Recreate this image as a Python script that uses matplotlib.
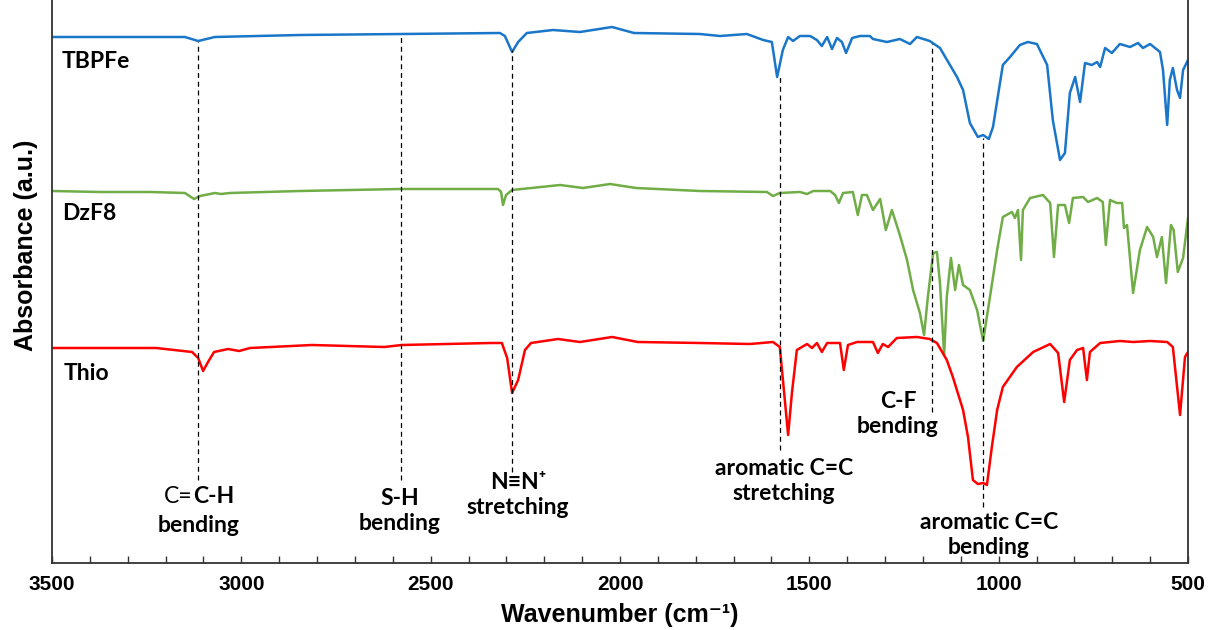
import matplotlib.pyplot as plt
from matplotlib.ticker import MultipleLocator

# FTIR spectra (absorbance in arbitrary units, curves stacked)
wn_tbpfe = [3500, 3241, 3149, 3114, 3070, 2845, 2576, 2317, 2304, 2285, 2269, 2246, 2177, 2106,
            2021, 1963, 1789, 1736, 1665, 1622, 1599, 1585, 1570, 1556, 1543, 1525, 1498, 1480,
            1467, 1453, 1440, 1427, 1414, 1403, 1387, 1366, 1340, 1332, 1295, 1261, 1234, 1216,
            1182, 1155, 1110, 1094, 1076, 1055, 1041, 1026, 1015, 989, 970, 944, 923, 899, 872,
            857, 838, 825, 812, 798, 785, 772, 754, 740, 732, 719, 701, 680, 653, 632, 619, 600,
            574, 566, 555, 548, 540, 529, 521, 513, 500]
abs_tbpfe = [526, 526, 526, 522, 526, 528, 529, 530, 527, 511, 521, 530, 533, 531,
             536, 530, 529, 527, 529, 523, 521, 486, 513, 526, 522, 527, 527, 523,
             517, 526, 514, 525, 521, 510, 525, 527, 527, 524, 521, 524, 519, 526,
             522, 515, 486, 473, 440, 426, 428, 424, 436, 498, 506, 518, 521, 519, 498,
             443, 403, 410, 470, 486, 461, 500, 498, 501, 496, 515, 510, 519, 516, 520, 515, 519,
             511, 493, 438, 483, 495, 473, 465, 493, 503]

wn_dzf8 = [3500, 3373, 3241, 3149, 3125, 3109, 3070, 3054, 3030, 2845, 2581, 2322, 2314, 2309,
           2301, 2285, 2158, 2098, 2026, 1958, 1789, 1612, 1596, 1578, 1525, 1506, 1490, 1445,
           1432, 1422, 1411, 1385, 1372, 1361, 1348, 1332, 1313, 1298, 1282, 1261, 1242, 1226,
           1208, 1197, 1187, 1173, 1163, 1155, 1144, 1137, 1126, 1115, 1105, 1094, 1076, 1057,
           1041, 1023, 1004, 989, 965, 957, 949, 941, 936, 917, 883, 864, 854, 843, 825, 814,
           804, 777, 764, 740, 725, 717, 706, 688, 674, 669, 661, 645, 627, 608, 592, 582, 569,
           558, 545, 538, 527, 513, 500]
abs_dzf8 = [372, 371, 371, 370, 364, 367, 370, 369, 370, 372, 374, 374, 371, 358,
            368, 373, 378, 375, 379, 375, 372, 371, 367, 370, 371, 369, 372, 372,
            368, 360, 370, 371, 348, 368, 368, 353, 364, 333, 353, 328, 303, 273,
            250, 228, 266, 310, 311, 280, 208, 266, 305, 273, 298, 278, 273, 253,
            222, 266, 313, 346, 351, 345, 353, 303, 353, 365, 368, 360, 306, 358, 358, 340,
            365, 366, 361, 365, 361, 318, 363, 360, 360, 335, 338, 270, 313, 336, 326, 306, 326,
            280, 338, 333, 291, 305, 345]

wn_thio = [3500, 3225, 3130, 3114, 3101, 3088, 3072, 3035, 3006, 2977, 2813, 2623, 2576, 2341,
           2312, 2298, 2285, 2269, 2251, 2235, 2164, 2106, 2021, 1953, 1789, 1657, 1596, 1578,
           1564, 1556, 1546, 1533, 1506, 1493, 1480, 1467, 1453, 1419, 1409, 1398, 1374, 1332,
           1319, 1306, 1292, 1269, 1216, 1182, 1163, 1137, 1121, 1094, 1081, 1068, 1055, 1041,
           1031, 1018, 1004, 989, 952, 909, 864, 843, 827, 812, 793, 777, 767, 759, 732, 680,
           645, 600, 555, 540, 521, 508, 500]
abs_thio = [215, 215, 211, 205, 192, 201, 211, 214, 212, 215, 218, 216, 218, 220,
            220, 205, 170, 183, 213, 220, 224, 221, 226, 221, 220, 219, 221, 216,
            160, 128, 170, 213, 219, 215, 220, 211, 220, 220, 193, 218, 221, 221,
            210, 219, 216, 225, 226, 224, 220, 203, 186, 153, 126, 83, 79, 80,
            78, 116, 153, 176, 196, 211, 219, 210, 161, 203, 213, 215, 183, 211, 220, 222,
            221, 222, 221, 216, 148, 206, 211]

sample_names = ["TBPFe", "DzF8", "Thio"]
sample_colors = ["#1a76c8", "#70ad47", "#ff0000"]
name_x = [3474, 3474, 3468]
name_y = [501, 350, 189]

# assigned bands: dashed guide line from top to bottom, label centred below it
band_wn = [3114, 2578, 2285, 1578, 1176, 1042]
band_top = [521, 526, 513, 488, 519, 425]
band_bottom = [83, 83, 91, 113, 151, 56]
band_labels = ["C=C-H\nbending", "S-H\nbending", "N\u2261N\u207a\nstretching",
               "aromatic C=C\nstretching", "C-F\nbending", "aromatic C=C\nbending"]
label_x = [3112, 2581, 2269, 1567, 1266, 1026]
label_y = [52, 52, 68, 82, 149, 28]

ann_font = ["Lato", "DejaVu Sans"]
axis_font = ["Liberation Sans", "DejaVu Sans"]

fig = plt.figure(figsize=(12.08, 6.30), dpi=100)
ax = fig.add_axes([52 / 1208, 67 / 630, 1136 / 1208, 563 / 630])

spectra = [(wn_tbpfe, abs_tbpfe), (wn_dzf8, abs_dzf8), (wn_thio, abs_thio)]
for (wn, ab), name, col, nx, ny in zip(spectra, sample_names, sample_colors, name_x, name_y):
    ax.plot(wn, ab, color=col, lw=1.8, solid_joinstyle="round")
    ax.text(nx, ny, name, ha="left", va="center", fontsize=16.5, fontweight="bold", family=ann_font)

for x, top, bot in zip(band_wn, band_top, band_bottom):
    ax.plot([x, x], [bot, top], color="black", lw=0.9, ls=(0, (4, 3)))

for text, lx, ly in zip(band_labels, label_x, label_y):
    if text.startswith("C=C-H"):
        # the source draws "C=" in regular weight and "C-H" in bold
        ax.annotate("C=", (lx, ly), xytext=(-4.3, 10.4), textcoords="offset points",
                    ha="right", va="center", fontsize=16.5, family=ann_font)
        ax.annotate("C-H", (lx, ly), xytext=(-4.3, 10.4), textcoords="offset points",
                    ha="left", va="center", fontsize=16.5, fontweight="bold", family=ann_font)
        ax.annotate("bending", (lx, ly), xytext=(0, -10.4), textcoords="offset points",
                    ha="center", va="center", fontsize=16.5, fontweight="bold", family=ann_font)
    else:
        ax.text(lx, ly, text, ha="center", va="center", multialignment="center",
                fontsize=16.5, fontweight="bold", family=ann_font, linespacing=1.22)

ax.set_xlim(3500, 500)
ax.set_ylim(0, 563)
ax.set_yticks([])
ax.xaxis.set_major_locator(MultipleLocator(500))
ax.xaxis.set_minor_locator(MultipleLocator(100))
ax.tick_params(axis="x", which="both", direction="in", length=5, width=1, color="#333333", pad=9)
for lab in ax.get_xticklabels():
    lab.set_fontsize(15)
    lab.set_fontweight("bold")
    lab.set_family(axis_font)

ax.spines["top"].set_visible(False)
for side in ["left", "right", "bottom"]:
    ax.spines[side].set_color("#333333")
    ax.spines[side].set_linewidth(1.3)

ax.set_xlabel("Wavenumber (cm\u207b\u00b9)", fontsize=18, fontweight="bold",
              family=axis_font, labelpad=6)
ax.set_ylabel("Absorbance (a.u.)", fontsize=18, fontweight="bold", family=axis_font)
ax.yaxis.set_label_coords(-0.012, 0.565)

fig.savefig("out.png", dpi=100)
